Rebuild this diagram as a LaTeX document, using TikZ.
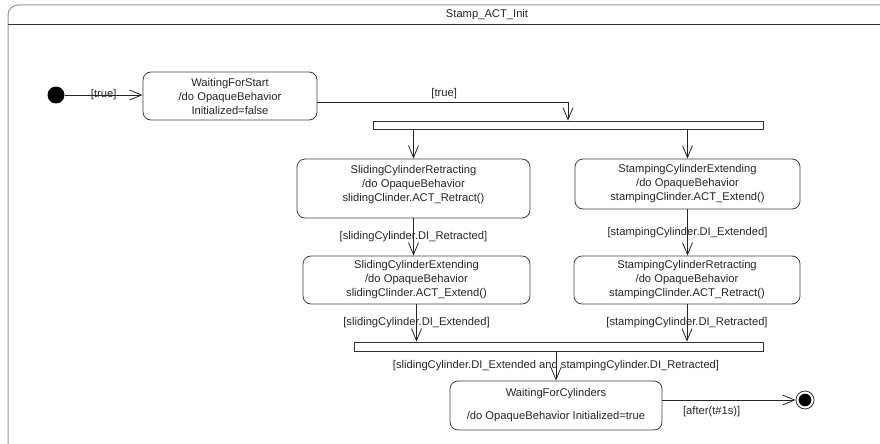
\documentclass[tikz,border=0pt]{standalone}
\usepackage{fontspec}
\setmainfont{Liberation Sans}
\usetikzlibrary{arrows.meta,calc}
\begin{document}
\begin{tikzpicture}[x=1pt,y=-1pt,
  font=\fontsize{11.2}{14}\selectfont,
  every node/.style={text=black!85},
  state/.style={draw=black!75, line width=0.8pt, rounded corners=8pt, fill=white, align=center, inner sep=0pt},
  bar/.style={draw=black!80, line width=0.8pt, fill=white, inner sep=0pt},
  tr/.style={draw=black!85, line width=0.8pt, -{Straight Barb[length=12pt,width=10pt]}},
  guard/.style={inner sep=1pt}
]
\useasboundingbox (0,0) rectangle (880,444);
\clip (0,0) rectangle (880,444);

% state machine frame with its title compartment
\draw[gray!85, line width=1pt, rounded corners=10pt] (8,450) -- (8,5) -- (890,5);
\draw[black!80, line width=0.9pt] (8,24) -- (890,24);
\node (title) at (487,14.5) {Stamp\_ACT\_Init};

% pseudostates
\node[circle, fill=black, minimum size=17pt, inner sep=0pt] (init) at (56,95) {};
\node[circle, draw=black!80, fill=white, line width=0.8pt, minimum size=18pt, inner sep=0pt,
      path picture={\fill[black] (path picture bounding box.center) circle (6.3pt);}] (final) at (805,400) {};

% states
\node[state, minimum width=174pt, minimum height=48pt] (wfs) at (230,96)
  {WaitingForStart\\/do OpaqueBehavior\\Initialized=false};
\node[state, minimum width=233pt, minimum height=59pt] (scr) at (413.5,188.5) {};
\node[align=center, inner sep=0pt] (scrtext) at (413.5,184.5)
  {SlidingCylinderRetracting\\/do OpaqueBehavior\\slidingClinder.ACT\_Retract()};
\node[state, minimum width=227pt, minimum height=48pt] (sce) at (416.5,280)
  {SlidingCylinderExtending\\/do OpaqueBehavior\\slidingClinder.ACT\_Extend()};
\node[state, minimum width=225pt, minimum height=50pt] (stce) at (687.5,184)
  {StampingCylinderExtending\\/do OpaqueBehavior\\stampingClinder.ACT\_Extend()};
\node[state, minimum width=226pt, minimum height=48pt] (stcr) at (687,280)
  {StampingCylinderRetracting\\/do OpaqueBehavior\\stampingClinder.ACT\_Retract()};
\node[state, minimum width=212pt, minimum height=49pt] (wfc) at (556,405.5)
  {WaitingForCylinders\\[9pt]/do OpaqueBehavior Initialized=true};

% fork and join bars
\node[bar, minimum width=390pt, minimum height=8pt] (fork1) at (568,125) {};
\node[bar, minimum width=409pt, minimum height=9pt] (fork2) at (558.5,346.5) {};

% transitions
\draw[tr] (init.east) -- (init.east -| wfs.west) node[guard, midway] {[true]};
\draw[tr] ($(wfs.east)+(0,6)$) -| (fork1.north) node[guard, pos=0.253, above=2pt] {[true]};
\draw[tr] (scr.north |- fork1.south) -- (scr.north);
\draw[tr] (stce.north |- fork1.south) -- (stce.north);
\draw[tr] (scr.south) -- (scr.south |- sce.north)
  node[guard, midway] {[slidingCylinder.DI\_Retracted]};
\draw[tr] (stce.south) -- (stce.south |- stcr.north)
  node[guard, midway] {[stampingCylinder.DI\_Extended]};
\draw[tr] (sce.south) -- (sce.south |- fork2.north)
  node[guard, midway] {[slidingCylinder.DI\_Extended]};
\draw[tr] (stcr.south) -- (stcr.south |- fork2.north)
  node[guard, midway] {[stampingCylinder.DI\_Retracted]};
\draw[tr] (wfc.north |- fork2.south) -- (wfc.north)
  node[guard, midway] {[slidingCylinder.DI\_Extended and stampingCylinder.DI\_Retracted]};
\draw[tr] (final.west -| wfc.east) -- (final.west)
  node[guard, pos=0.37, below=5pt] {[after(t\#1s)]};
\end{tikzpicture}
\end{document}
